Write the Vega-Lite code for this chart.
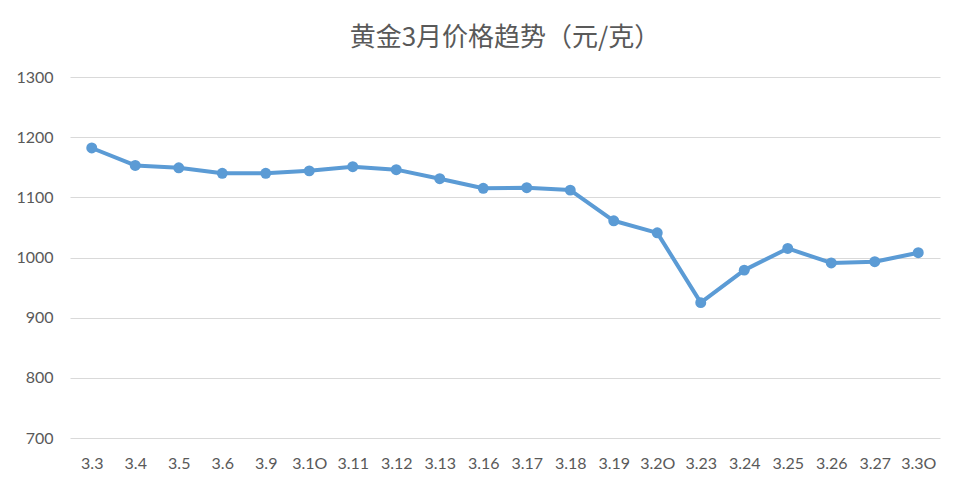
{
  "$schema": "https://vega.github.io/schema/vega-lite/v6.json",
  "width": 870,
  "height": 361,
  "autosize": {"type": "none"},
  "padding": {"left": 70, "top": 77, "right": 23, "bottom": 50},
  "background": "white",
  "title": {
    "text": "黄金3月价格趋势（元/克）",
    "font": "Noto Sans CJK SC",
    "fontSize": 26,
    "fontWeight": "normal",
    "color": "#595959",
    "anchor": "middle",
    "frame": "group",
    "offset": 18
  },
  "data": {
    "values": [
      {"date": "3.3", "price": 1182},
      {"date": "3.4", "price": 1153},
      {"date": "3.5", "price": 1149},
      {"date": "3.6", "price": 1140},
      {"date": "3.9", "price": 1140},
      {"date": "3.1O", "price": 1144},
      {"date": "3.11", "price": 1151},
      {"date": "3.12", "price": 1146},
      {"date": "3.13", "price": 1131},
      {"date": "3.16", "price": 1115},
      {"date": "3.17", "price": 1116},
      {"date": "3.18", "price": 1112},
      {"date": "3.19", "price": 1061},
      {"date": "3.2O", "price": 1041},
      {"date": "3.23", "price": 925},
      {"date": "3.24", "price": 979},
      {"date": "3.25", "price": 1015},
      {"date": "3.26", "price": 991},
      {"date": "3.27", "price": 993},
      {"date": "3.3O", "price": 1008}
    ]
  },
  "encoding": {
    "x": {
      "field": "date",
      "type": "ordinal",
      "sort": null,
      "scale": {"type": "point", "padding": 0.5},
      "axis": {
        "title": null,
        "labelAngle": 0,
        "labelFont": "Lato",
        "labelFontSize": 16,
        "labelColor": "#595959",
        "labelPadding": 17,
        "ticks": false,
        "domain": false,
        "grid": false
      }
    },
    "y": {
      "field": "price",
      "type": "quantitative",
      "scale": {"domain": [700, 1300], "nice": false, "zero": false},
      "axis": {
        "title": null,
        "format": "d",
        "values": [700, 800, 900, 1000, 1100, 1200, 1300],
        "labelFont": "Lato",
        "labelFontSize": 16,
        "labelColor": "#595959",
        "labelPadding": 17,
        "ticks": false,
        "domain": false,
        "grid": true,
        "gridColor": "#d9d9d9",
        "gridWidth": 1
      }
    }
  },
  "layer": [
    {
      "mark": {"type": "line", "color": "#5b9bd5", "strokeWidth": 4, "strokeJoin": "round"}
    },
    {
      "mark": {"type": "circle", "color": "#5b9bd5", "size": 120, "opacity": 1}
    }
  ],
  "config": {
    "view": {"stroke": null}
  }
}
